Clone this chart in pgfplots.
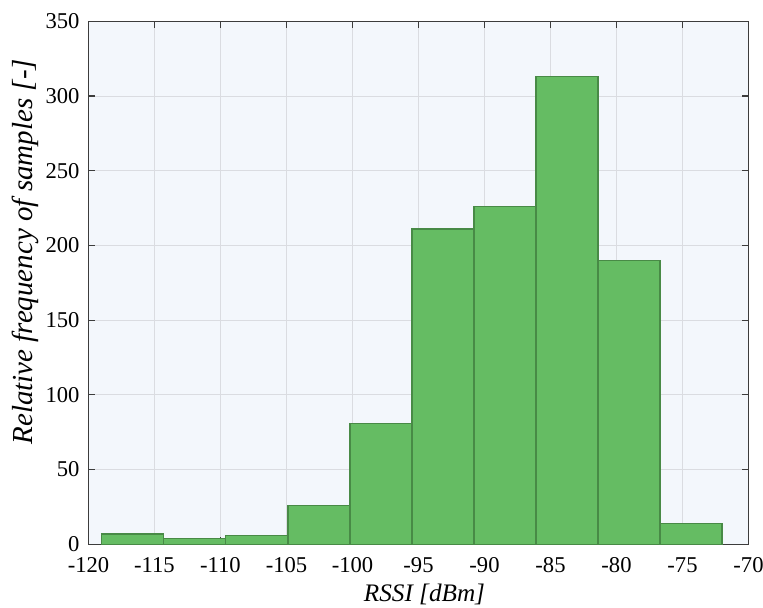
\documentclass[border=0pt]{standalone}
\usepackage{pgfplots}
\pgfplotsset{compat=1.18}
\usepackage{fontspec}
\setmainfont{Liberation Serif}

\definecolor{barfill}{RGB}{101,188,99}
\definecolor{baredge}{RGB}{72,138,70}
\definecolor{axbg}{RGB}{243,247,252}
\definecolor{gridc}{RGB}{218,220,225}
\definecolor{axc}{RGB}{60,60,60}

\begin{document}
\begin{tikzpicture}
\begin{axis}[
  scale only axis,
  width=330pt, height=261.5pt,
  xmin=-120, xmax=-70,
  ymin=0, ymax=350,
  xtick={-120,-115,...,-70},
  ytick={0,50,...,350},
  grid=major,
  major grid style={gridc, line width=0.5pt},
  axis background/.style={fill=axbg},
  axis line style={axc, line width=0.6pt},
  tick style={axc, line width=0.6pt},
  tick align=inside,
  major tick length=3.5pt,
  xtick pos=both, ytick pos=both,
  tick label style={font=\fontsize{11.3}{13}\selectfont, black},
  /pgf/number format/assume math mode=true,
  /pgf/number format/.cd, 1000 sep={}, /pgfplots/.cd,
  xticklabel style={yshift=-3pt},
  yticklabel style={xshift=-1pt},
  xlabel={\itshape RSSI [dBm]},
  ylabel={\itshape Relative frequency of samples [-]},
  xlabel style={font=\fontsize{12.6}{14}\selectfont, yshift=1pt, xshift=3pt},
  ylabel style={font=\fontsize{14.5}{16}\selectfont, yshift=-3.5pt, xshift=15.5pt},
]
\addplot[ybar interval, fill=barfill, draw=baredge, line width=0.7pt]
  coordinates {
    (-119.0,7) (-114.3,4) (-109.6,6) (-104.9,26) (-100.2,81)
    (-95.5,211) (-90.8,226) (-86.1,313) (-81.4,190) (-76.7,14)
    (-72.0,14)
  };
\end{axis}
\pgfresetboundingbox
\useasboundingbox ([shift={(-44.25pt,-31.4pt)}]current axis.south west)
  rectangle ([shift={(7.25pt,10.65pt)}]current axis.north east);
\end{tikzpicture}
\end{document}
